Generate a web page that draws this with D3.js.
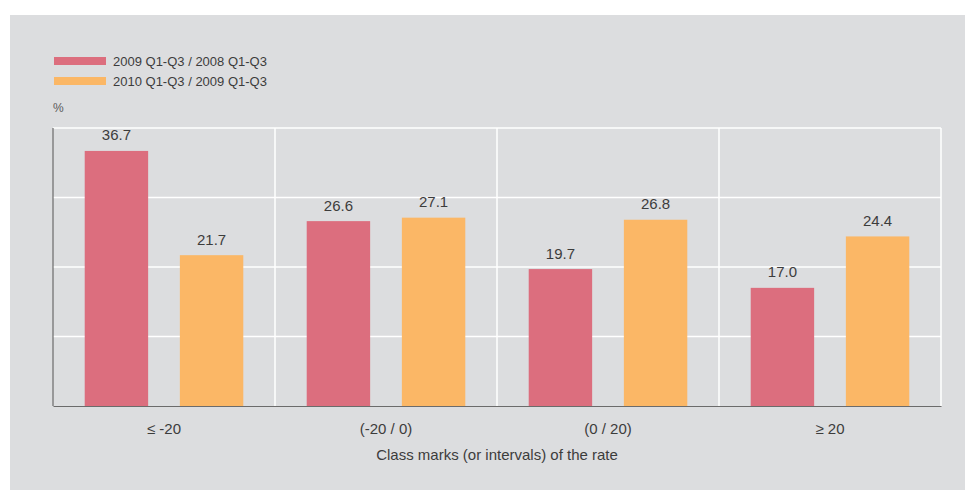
<!DOCTYPE html>
<html>
<head>
<meta charset="utf-8">
<script src="https://cdn.jsdelivr.net/npm/d3@7"></script>
<style>
  html, body { margin: 0; padding: 0; background: #ffffff; }
  svg { display: block; font-family: "Liberation Sans", Arial, Helvetica, sans-serif; }
</style>
</head>
<body>
<svg id="chart" width="966" height="490"></svg>
<script>
// Growth-rate classes and the share (%) of each period in every class
const categories = ["\u2264 -20", "(-20 / 0)", "(0 / 20)", "\u2265 20"];
const seriesNames = ["2009 Q1-Q3 / 2008 Q1-Q3", "2010 Q1-Q3 / 2009 Q1-Q3"];
const values2009 = [36.7, 26.6, 19.7, 17.0];
const values2010 = [21.7, 27.1, 26.8, 24.4];
const yTicks = [0, 10, 20, 30, 40];
const colors = ["#dc6e7e", "#fbb766"];

const series = [values2009, values2010];

const svg = d3.select("#chart");

// Grey panel behind everything
svg.append("rect")
  .attr("x", 10).attr("y", 15)
  .attr("width", 955).attr("height", 475)
  .attr("fill", "#dcdddf");

const plot = { left: 53, right: 941, top: 128, bottom: 406 };

const x0 = d3.scaleBand()
  .domain(categories)
  .range([plot.left, plot.right])
  .paddingInner(0).paddingOuter(0);

// Within each class: pad, bar, pad, bar, pad (bar = two pad widths)
const unit = x0.bandwidth() / 7;
const barW = unit * 2;
const barOffset = i => unit + i * (barW + unit);

const y = d3.scaleLinear()
  .domain([0, 40])
  .range([plot.bottom, plot.top]);

// Horizontal gridlines
svg.append("g")
  .selectAll("line")
  .data(yTicks.filter(t => t > 0))
  .join("line")
  .attr("x1", plot.left).attr("x2", plot.right)
  .attr("y1", d => y(d)).attr("y2", d => y(d))
  .attr("stroke", "#ffffff").attr("stroke-width", 1.5);

// Vertical separators between classes and right border
svg.append("g")
  .selectAll("line")
  .data(categories.slice(1).map(c => x0(c)).concat([plot.right]))
  .join("line")
  .attr("x1", d => d).attr("x2", d => d)
  .attr("y1", plot.top).attr("y2", plot.bottom)
  .attr("stroke", "#ffffff").attr("stroke-width", 1.5);

// Bars
const groups = svg.append("g")
  .selectAll("g")
  .data(categories)
  .join("g")
  .attr("transform", d => `translate(${x0(d)},0)`);

groups.selectAll("rect")
  .data((c, ci) => series.map((s, si) => ({ si, v: s[ci] })))
  .join("rect")
  .attr("x", d => barOffset(d.si))
  .attr("width", barW)
  .attr("y", d => y(d.v))
  .attr("height", d => y(0) - y(d.v))
  .attr("fill", d => colors[d.si]);

// Value labels
groups.selectAll("text")
  .data((c, ci) => series.map((s, si) => ({ si, v: s[ci] })))
  .join("text")
  .attr("x", d => barOffset(d.si) + barW / 2)
  .attr("y", d => y(d.v) - 10.5)
  .attr("text-anchor", "middle")
  .attr("font-size", 15)
  .attr("fill", "#3c3c3c")
  .text(d => d.v.toFixed(1));

// Axes lines (left and bottom)
svg.append("line")
  .attr("x1", plot.left).attr("x2", plot.left)
  .attr("y1", plot.top).attr("y2", plot.bottom)
  .attr("stroke", "#6b6b6b").attr("stroke-width", 1.2);

const xAxis = svg.append("g")
  .attr("transform", `translate(0,${plot.bottom})`)
  .call(d3.axisBottom(x0).tickSize(0).tickPadding(0));
xAxis.select(".domain").attr("stroke", "#6b6b6b").attr("stroke-width", 1.2);
xAxis.selectAll(".tick text")
  .attr("dy", 0)
  .attr("y", 27.5)
  .attr("font-size", 15)
  .attr("font-family", "\"Liberation Sans\", Arial, sans-serif")
  .attr("fill", "#3c3c3c");

// Axis title
svg.append("text")
  .attr("x", (plot.left + plot.right) / 2)
  .attr("y", 460)
  .attr("text-anchor", "middle")
  .attr("font-size", 15)
  .attr("fill", "#3c3c3c")
  .text("Class marks (or intervals) of the rate");

// Unit label
svg.append("text")
  .attr("x", plot.left)
  .attr("y", 112)
  .attr("font-size", 12)
  .attr("fill", "#5a5a5a")
  .text("%");

// Legend
const legend = svg.append("g")
  .selectAll("g")
  .data(seriesNames)
  .join("g")
  .attr("transform", (d, i) => `translate(54,${57 + i * 20})`);

legend.append("rect")
  .attr("width", 52).attr("height", 8)
  .attr("fill", (d, i) => colors[i]);

legend.append("text")
  .attr("x", 59)
  .attr("y", 8.5)
  .attr("font-size", 13)
  .attr("fill", "#3c3c3c")
  .text(d => d);
</script>
</body>
</html>
